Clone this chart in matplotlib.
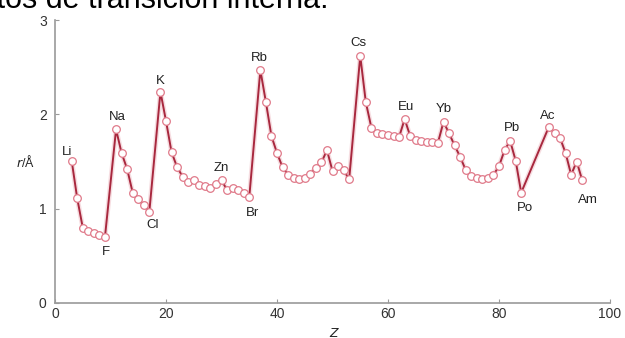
import numpy as np
import matplotlib
matplotlib.use("Agg")
import matplotlib.pyplot as plt

plt.rcParams['font.family'] = ['Liberation Sans', 'DejaVu Sans']

# atomic number and radius (Angstrom)
z = [3, 4, 5, 6, 7, 8, 9,
     11, 12, 13, 14, 15, 16, 17,
     19, 20, 21, 22, 23, 24, 25, 26, 27, 28, 29, 30, 31, 32, 33, 34, 35,
     37, 38, 39, 40, 41, 42, 43, 44, 45, 46, 47, 48, 49, 50, 51, 52, 53,
     55, 56, 57, 58, 59, 60, 61, 62, 63, 64, 65, 66, 67, 68, 69, 70,
     71, 72, 73, 74, 75, 76, 77, 78, 79, 80, 81, 82, 83, 84,
     89, 90, 91, 92, 93, 94, 95]
r = [1.51, 1.11, 0.80, 0.76, 0.74, 0.72, 0.70,
     1.84, 1.59, 1.42, 1.17, 1.10, 1.04, 0.97,
     2.24, 1.93, 1.60, 1.44, 1.34, 1.28, 1.30, 1.25, 1.24, 1.22, 1.26, 1.30, 1.20, 1.22, 1.20, 1.17, 1.12,
     2.47, 2.13, 1.77, 1.59, 1.44, 1.36, 1.33, 1.32, 1.33, 1.37, 1.43, 1.49, 1.62, 1.40, 1.45, 1.41, 1.31,
     2.62, 2.13, 1.86, 1.80, 1.79, 1.78, 1.77, 1.76, 1.95, 1.77, 1.73, 1.72, 1.71, 1.71, 1.70, 1.92,
     1.80, 1.67, 1.55, 1.41, 1.35, 1.33, 1.32, 1.33, 1.36, 1.45, 1.62, 1.72, 1.51, 1.17,
     1.87, 1.80, 1.75, 1.59, 1.36, 1.50, 1.30]

# labelled elements: symbol, Z, label offset in points
labels = ["Li", "Na", "K", "Rb", "Cs", "Eu", "Yb", "Pb", "Ac", "Zn",
          "F", "Cl", "Br", "Po", "Am"]
label_z = [3, 11, 19, 37, 55, 63, 70, 82, 89, 30, 9, 17, 35, 84, 95]
offsets = [(-3, 6), (1, 9), (0, 8), (-1, 9), (-1, 9), (1, 9), (0, 9), (1, 9), (-1, 8), (0, 9),
           (1, -11), (2, -10), (2, -11), (3, -11), (4, -14)]

fig = plt.figure(figsize=(6.25, 3.38), dpi=100)
ax = fig.add_axes([0.088, 0.1036, 0.888, 0.837])

ax.plot(z, r, color='#e8a0aa', lw=3.5, alpha=0.35, zorder=1)
ax.plot(z, r, color='#a8283e', lw=1.4, zorder=2,
        marker='o', markersize=5.5, markerfacecolor='white',
        markeredgecolor='#e07a8a', markeredgewidth=0.9)

for s, zz, off in zip(labels, label_z, offsets):
    rr = r[z.index(zz)]
    ax.annotate(s, (zz, rr), xytext=off, textcoords='offset points',
                ha='center', va='center', fontsize=9.5, color='#222222')

ax.set_xlim(0, 100)
ax.set_ylim(0, 3)
ax.set_xticks([0, 20, 40, 60, 80, 100])
ax.set_yticks([0, 1, 2, 3])
for sp in ['top', 'right']:
    ax.spines[sp].set_visible(False)
for sp in ['left', 'bottom']:
    ax.spines[sp].set_color('#9a9a9a')
    ax.spines[sp].set_linewidth(1.2)
ax.tick_params(direction='in', length=3, color='#9a9a9a', labelsize=10,
               labelcolor='#333333', pad=3)
ax.tick_params(axis='y', pad=6)

fig.text(0.04, 0.52, '$r$/Å', fontsize=9, color='#222222', ha='center', va='center')
fig.text(0.536, 0.034, '$Z$', fontsize=9, color='#222222', ha='center', va='top')

# title line, cut by the top edge as in the source image
fig.text(0.525, 0.976, 'elementos de transición interna.', fontsize=22,
         color='black', ha='right', va='baseline')

fig.savefig('out.png', dpi=100)
